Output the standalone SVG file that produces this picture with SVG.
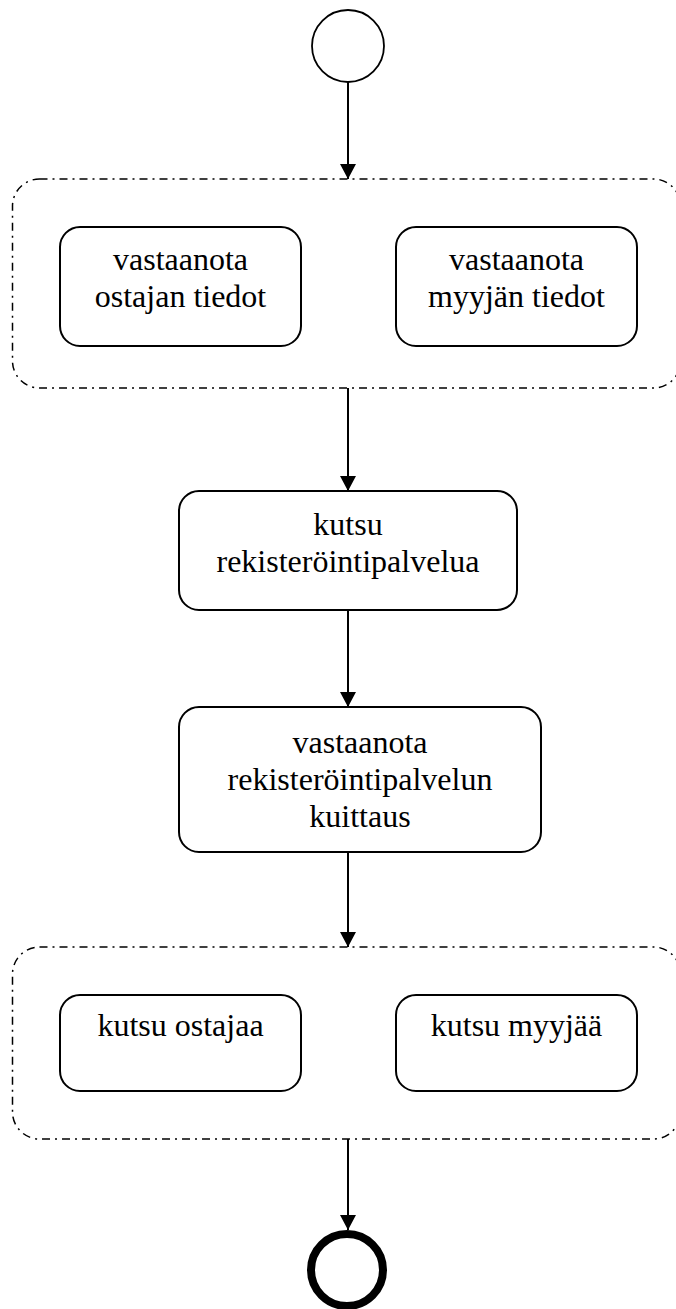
<svg xmlns="http://www.w3.org/2000/svg" width="676" height="1309" viewBox="0 0 676 1309">
  <style>
    .bg { fill: #ffffff; }
    .region { fill: none; stroke: #000; stroke-width: 1.5; stroke-dasharray: 8 5 2 5; }
    .action { fill: #ffffff; stroke: #000; stroke-width: 2; }
    .label { font-family: "Liberation Serif", "Times New Roman", serif; font-size: 32px; fill: #000; text-anchor: middle; }
    .flow { stroke: #000; stroke-width: 2; fill: none; marker-end: url(#arrow); }
    .start { fill: #ffffff; stroke: #000; stroke-width: 1.8; }
    .end { fill: #ffffff; stroke: #000; stroke-width: 8; }
  </style>
  <defs>
    <marker id="arrow" markerWidth="15" markerHeight="16" refX="15" refY="8" orient="auto" markerUnits="userSpaceOnUse">
      <path d="M0,0 L15,8 L0,16 Z" fill="#000"/>
    </marker>
  </defs>

  <rect class="bg" x="0" y="0" width="676" height="1309"/>

  <!-- initial node -->
  <g id="start">
    <circle class="start" cx="348" cy="46" r="36"/>
  </g>

  <!-- parallel region: receive buyer / seller data -->
  <g id="region-receive">
    <rect class="region" x="12.5" y="179" width="668" height="209" rx="27" ry="27"/>
  </g>
  <g id="receive-buyer">
    <rect class="action" x="60" y="227" width="241" height="119" rx="20" ry="20"/>
    <text class="label" x="180.5" y="270">vastaanota</text>
    <text class="label" x="180.5" y="307">ostajan tiedot</text>
  </g>
  <g id="receive-seller">
    <rect class="action" x="396" y="227" width="241" height="119" rx="20" ry="20"/>
    <text class="label" x="516.5" y="270">vastaanota</text>
    <text class="label" x="516.5" y="307">myyjän tiedot</text>
  </g>

  <!-- call registration service -->
  <g id="call-registration">
    <rect class="action" x="179" y="491" width="338" height="119" rx="20" ry="20"/>
    <text class="label" x="348" y="535">kutsu</text>
    <text class="label" x="348" y="572">rekisteröintipalvelua</text>
  </g>

  <!-- receive registration acknowledgement -->
  <g id="receive-ack">
    <rect class="action" x="179" y="707" width="362" height="145" rx="20" ry="20"/>
    <text class="label" x="360" y="753">vastaanota</text>
    <text class="label" x="360" y="790">rekisteröintipalvelun</text>
    <text class="label" x="360" y="827">kuittaus</text>
  </g>

  <!-- parallel region: call buyer / seller -->
  <g id="region-call">
    <rect class="region" x="12.5" y="947" width="668" height="192" rx="27" ry="27"/>
  </g>
  <g id="call-buyer">
    <rect class="action" x="60" y="995" width="241" height="96" rx="20" ry="20"/>
    <text class="label" x="180.5" y="1036">kutsu ostajaa</text>
  </g>
  <g id="call-seller">
    <rect class="action" x="396" y="995" width="241" height="96" rx="20" ry="20"/>
    <text class="label" x="516.5" y="1036">kutsu myyjää</text>
  </g>

  <!-- final node -->
  <g id="end">
    <circle class="end" cx="347" cy="1270" r="36"/>
  </g>

  <!-- control flow -->
  <g id="connectors">
    <line class="flow" x1="348" y1="82" x2="348" y2="179"/>
    <line class="flow" x1="348" y1="388" x2="348" y2="491"/>
    <line class="flow" x1="348" y1="610" x2="348" y2="707"/>
    <line class="flow" x1="348" y1="852" x2="348" y2="947"/>
    <line class="flow" x1="348" y1="1139" x2="348" y2="1230"/>
  </g>
</svg>
